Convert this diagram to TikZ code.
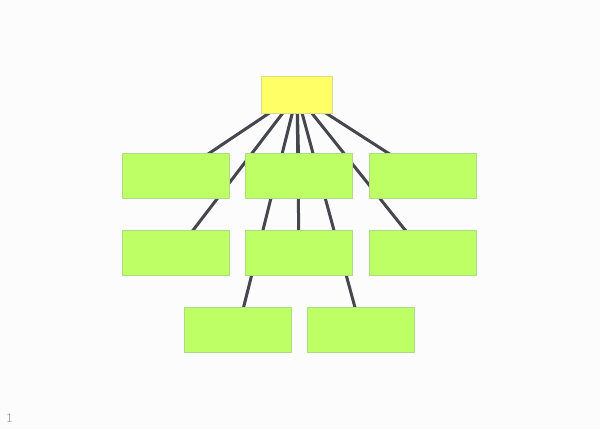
\documentclass[tikz,border=0pt]{standalone}
\usetikzlibrary{backgrounds}
\definecolor{bgc}{HTML}{FCFCFC}
\definecolor{leaf}{HTML}{BFFF66}
\definecolor{leafb}{HTML}{AEDC85}
\definecolor{rootc}{HTML}{FFFF66}
\definecolor{rootb}{HTML}{DCDC8C}
\definecolor{linkc}{HTML}{45464E}
\definecolor{numc}{HTML}{A8A8A8}
\begin{document}
\begin{tikzpicture}[x=1pt,y=-1pt,
  leafbox/.style={draw=leafb,fill=leaf,line width=1pt,minimum width=107pt,minimum height=45pt,inner sep=0pt},
  rootbox/.style={draw=rootb,fill=rootc,line width=1pt,minimum width=71pt,minimum height=37pt,inner sep=0pt},
  link/.style={draw=linkc,line width=3pt}]
\useasboundingbox (0,0) rectangle (600,429);
\node[rootbox] (r) at (297,94.5) {};
\node[leafbox] (a1) at (176,175.5) {};
\node[leafbox] (a2) at (299,175.5) {};
\node[leafbox] (a3) at (423,175.5) {};
\node[leafbox] (b1) at (176,252.5) {};
\node[leafbox] (b2) at (299,252.5) {};
\node[leafbox] (b3) at (423,252.5) {};
\node[leafbox] (c1) at (238,329.5) {};
\node[leafbox] (c2) at (361,329.5) {};
\node[text=numc,font=\sffamily\fontsize{13}{15}\selectfont,inner sep=0pt] (n) at (9.5,418) {1};
\begin{scope}[on background layer]
\fill[bgc] (0,0) rectangle (600,429);
\foreach \t in {a1,a2,a3,b1,b2,b3,c1,c2}
  \draw[link] (r.center) -- (\t.center);
\end{scope}
\end{tikzpicture}
\end{document}
